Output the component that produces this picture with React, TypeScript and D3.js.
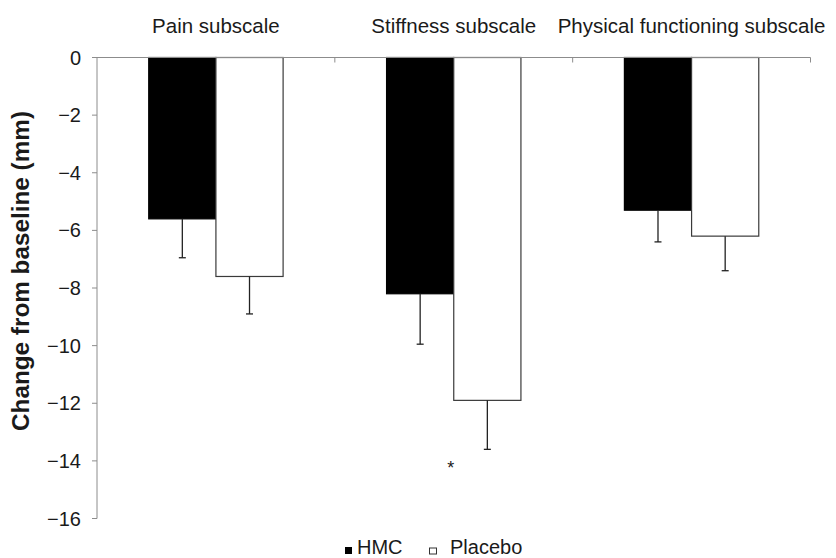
import React from "react";
import * as d3 from "d3";

const categories = ["Pain subscale", "Stiffness subscale", "Physical functioning subscale"];
const seriesNames = ["HMC", "Placebo"];
const hmcValues = [-5.6, -8.2, -5.3];
const placeboValues = [-7.6, -11.9, -6.2];
const hmcErrors = [1.35, 1.75, 1.1];
const placeboErrors = [1.3, 1.7, 1.2];
const yTicks = [0, -2, -4, -6, -8, -10, -12, -14, -16];
const significance = [null, "*", null];

const W = 836;
const H = 558;
const left = 97;
const right = 810.5;
const top = 57.5;
const bottom = 518.5;

export default function App() {
  const y = d3.scaleLinear().domain([0, -16]).range([top, bottom]);
  const x = d3.scaleBand().domain(categories).range([left, right]).paddingInner(0).paddingOuter(0);
  const inner = d3.scaleBand().domain(seriesNames).range([0, x.bandwidth()]).paddingInner(0).paddingOuter(0.77);
  const series = [
    { name: "HMC", values: hmcValues, errors: hmcErrors, fill: "#000", stroke: "#000" },
    { name: "Placebo", values: placeboValues, errors: placeboErrors, fill: "#fff", stroke: "#3a3a3a" },
  ];
  const font = "Liberation Sans, Arial, sans-serif";
  return (
    <svg width={W} height={H} style={{ position: "absolute", left: 0, top: 0 }} fontFamily={font}>
      <rect width={W} height={H} fill="#fff" />
      {series.map((s) =>
        categories.map((c, i) => {
          const bx = (x(c) as number) + (inner(s.name) as number);
          const bw = inner.bandwidth();
          const y0 = y(0);
          const y1 = y(s.values[i]);
          const ye = y(s.values[i] - s.errors[i]);
          const cx = bx + bw / 2;
          return (
            <g key={s.name + c}>
              <rect x={bx} y={y0} width={bw} height={y1 - y0} fill={s.fill} stroke={s.stroke} strokeWidth={1.2} />
              <line x1={cx} x2={cx} y1={y1} y2={ye} stroke="#222" strokeWidth={1.3} />
              <line x1={cx - 3.5} x2={cx + 3.5} y1={ye} y2={ye} stroke="#222" strokeWidth={1.3} />
            </g>
          );
        })
      )}
      <line x1={left} x2={left} y1={top} y2={bottom} stroke="#8c8c8c" strokeWidth={1} />
      {yTicks.map((t) => (
        <g key={t}>
          <line x1={left - 5} x2={left} y1={y(t)} y2={y(t)} stroke="#8c8c8c" strokeWidth={1} />
          <text x={left - 16} y={y(t)} dy="0.35em" textAnchor="end" fontSize={20} fill="#1a1a1a">
            {t === 0 ? "0" : "\u2212" + Math.abs(t)}
          </text>
        </g>
      ))}
      <line x1={left} x2={right} y1={y(0)} y2={y(0)} stroke="#8c8c8c" strokeWidth={1} />
      {categories.map((c) => (
        <line key={"sep" + c} x1={(x(c) as number) + x.bandwidth()} x2={(x(c) as number) + x.bandwidth()} y1={y(0)} y2={y(0) + 5} stroke="#8c8c8c" strokeWidth={1} />
      ))}
      {categories.map((c) => (
        <text key={"lab" + c} x={(x(c) as number) + x.bandwidth() / 2} y={33} textAnchor="middle" fontSize={20.5} fill="#1a1a1a">
          {c}
        </text>
      ))}
      {categories.map((c, i) =>
        significance[i] ? (
          <text key={"sig" + c} x={(x(c) as number) + x.bandwidth() / 2 - 3} y={474} textAnchor="middle" fontSize={18} fill="#1a1a1a">
            {significance[i]}
          </text>
        ) : null
      )}
      <text transform={`translate(29, 271) rotate(-90)`} textAnchor="middle" fontSize={24.3} fontWeight="bold" fill="#1a1a1a">
        Change from baseline (mm)
      </text>
      <rect x={345} y={547} width={7} height={7} fill="#000" />
      <text x={357} y={554} fontSize={20} fill="#1a1a1a">HMC</text>
      <rect x={429.5} y={548} width={7} height={6} fill="#fff" stroke="#333" strokeWidth={1} />
      <text x={450} y={554} fontSize={20} fill="#1a1a1a">Placebo</text>
    </svg>
  );
}
